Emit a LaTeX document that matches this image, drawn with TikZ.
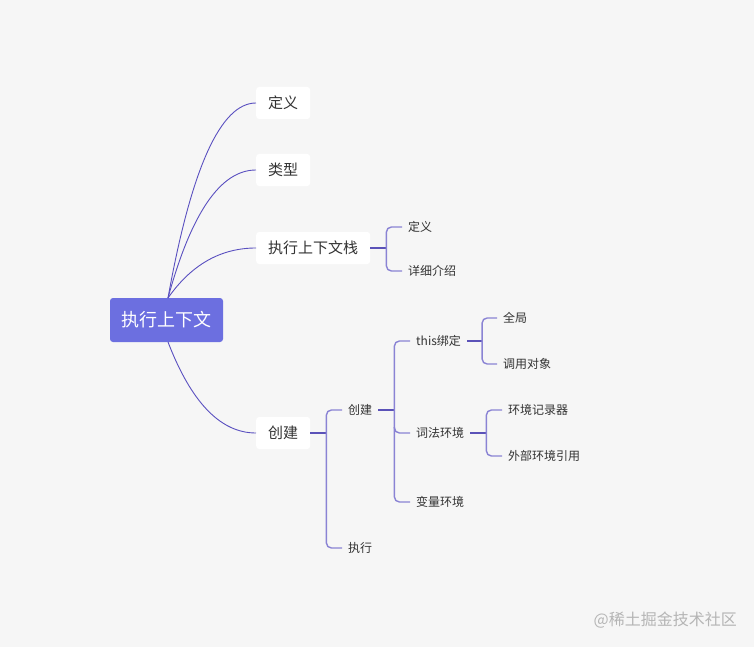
\documentclass[tikz,border=0pt]{standalone}
\usepackage{fontspec}
\setmainfont{Noto Sans CJK SC}
\usetikzlibrary{calc}
\definecolor{bgc}{HTML}{F6F6F6}
\definecolor{rootc}{HTML}{6C6FE0}
\definecolor{curvec}{HTML}{5A50C0}
\definecolor{stubc}{HTML}{5B52B8}
\definecolor{brkc}{HTML}{8A83D4}
\definecolor{txtc}{HTML}{333333}
\definecolor{wmc}{HTML}{B5B5B5}
\tikzset{
  rootbox/.style={fill=rootc, rounded corners=3pt, minimum width=113pt, minimum height=44pt, inner sep=0pt, text=white, font=\fontsize{18}{20}\selectfont},
  lonebox/.style={fill=white, rounded corners=3pt, minimum height=32pt, inner xsep=12pt, inner ysep=0pt, text=txtc, font=\fontsize{15}{17}\selectfont, anchor=west},
  ltwo/.style={inner xsep=6pt, inner ysep=0pt, text=txtc, font=\fontsize{12}{14}\selectfont, anchor=west},
  curve/.style={draw=curvec, line width=0.9pt},
  stub/.style={draw=stubc, line width=1.8pt},
  brk/.style={draw=brkc, line width=1.4pt, rounded corners=5pt},
}
\begin{document}
\begin{tikzpicture}[x=1pt,y=-1pt]
\fill[bgc] (0,0) rectangle (754,647);
\useasboundingbox (0,0) rectangle (754,647);

% root
\node[rootbox] (root) at (166.5,320) {执行上下文};
\coordinate (rt) at (168,298);
\coordinate (rb) at (168,342);

% level 1
\node[lonebox] (def) at (256,103) {定义};
\node[lonebox] (typ) at (256,170) {类型};
\node[lonebox] (stk) at (256,248) {执行上下文栈};
\node[lonebox] (cre) at (256,433) {创建};

% curve controls (quadratic)
\coordinate (q1) at (203,103);
\coordinate (q2) at (203,170);
\coordinate (q3) at (203,248);
\coordinate (q4) at (203,433);
\draw[curve] (rt) .. controls ($(rt)!2/3!(q1)$) and ($(def.west)!2/3!(q1)$) .. (def.west);
\draw[curve] (rt) .. controls ($(rt)!2/3!(q2)$) and ($(typ.west)!2/3!(q2)$) .. (typ.west);
\draw[curve] (rt) .. controls ($(rt)!2/3!(q3)$) and ($(stk.west)!2/3!(q3)$) .. (stk.west);
\draw[curve] (rb) .. controls ($(rb)!2/3!(q4)$) and ($(cre.west)!2/3!(q4)$) .. (cre.west);

% stack children
\node[ltwo] (sdef) at (402,227) {定义};
\node[ltwo] (sdet) at (402,271) {详细介绍};
\draw[stub] (stk.east) -- ++(16,0) coordinate (b1);
\draw[brk] (sdef.west) -| (b1 |- sdet.west) -- (sdet.west);

% create children
\node[ltwo] (ccre) at (342,410) {创建};
\node[ltwo] (cexe) at (342,548) {执行};
\draw[stub] (cre.east) -- ++(16,0) coordinate (b2);
\draw[brk] (ccre.west) -| (b2 |- cexe.west) -- (cexe.west);

% sub create children
\node[ltwo] (this) at (410,341) {this绑定};
\node[ltwo] (lex) at (410,433) {词法环境};
\node[ltwo] (var) at (410,502) {变量环境};
\draw[stub] (ccre.east) -- ++(16,0) coordinate (b3);
\draw[brk] (this.west) -| (b3 |- var.west) -- (var.west);
\draw[brk] ($(b3 |- lex.west)+(0,-6)$) -- (b3 |- lex.west) -- (lex.west);

% this children
\node[ltwo] (glob) at (497,318) {全局};
\node[ltwo] (call) at (497,364) {调用对象};
\draw[stub] (this.east) -- ++(15,0) coordinate (b4);
\draw[brk] (glob.west) -| (b4 |- call.west) -- (call.west);

% lex children
\node[ltwo] (rec) at (502,410) {环境记录器};
\node[ltwo] (outer) at (502,456) {外部环境引用};
\draw[stub] (lex.east) -- ++(16,0) coordinate (b5);
\draw[brk] (rec.west) -| (b5 |- outer.west) -- (outer.west);

% watermark
\node[anchor=east, inner sep=0pt, text=wmc, font=\fontsize{16}{18}\selectfont] (wm) at (737,620) {@稀土掘金技术社区};
\end{tikzpicture}
\end{document}
